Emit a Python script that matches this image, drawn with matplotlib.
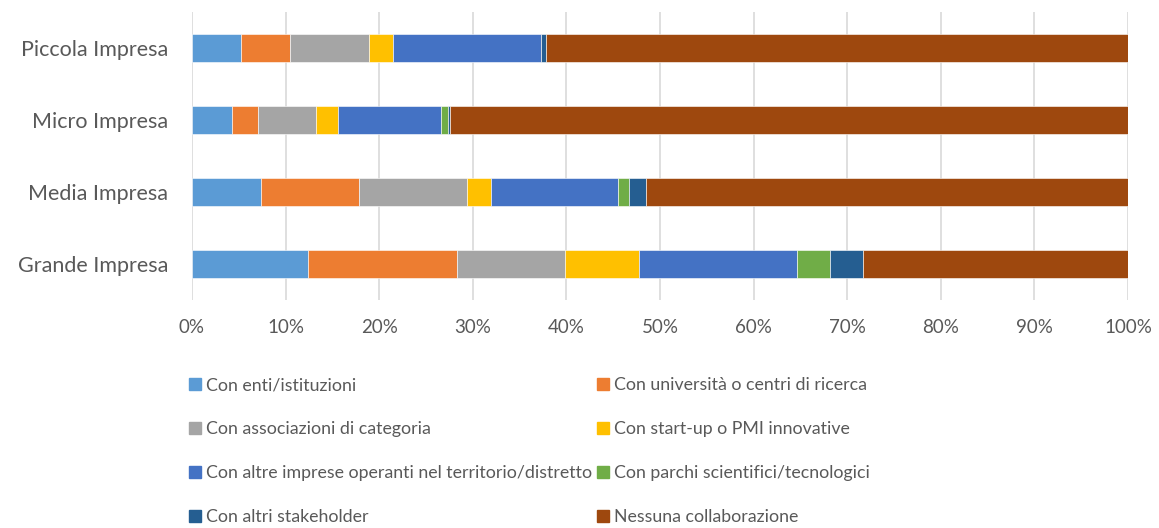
import matplotlib
matplotlib.use("Agg")
import matplotlib.pyplot as plt
from matplotlib.patches import Patch
from matplotlib.ticker import PercentFormatter

plt.rcParams['font.family'] = ['Lato', 'DejaVu Sans']

# categories, bottom to top
categories = ["Grande Impresa", "Media Impresa", "Micro Impresa", "Piccola Impresa"]

series_names = [
    "Con enti/istituzioni",
    "Con università o centri di ricerca",
    "Con associazioni di categoria",
    "Con start-up o PMI innovative",
    "Con altre imprese operanti nel territorio/distretto",
    "Con parchi scientifici/tecnologici",
    "Con altri stakeholder",
    "Nessuna collaborazione",
]

# percentages per series, same order as categories
enti = [12.4, 7.4, 4.3, 5.2]
universita = [15.9, 10.4, 2.7, 5.3]
associazioni = [11.6, 11.6, 6.2, 8.4]
startup = [7.9, 2.5, 2.4, 2.6]
altre_imprese = [16.8, 13.6, 11.0, 15.8]
parchi = [3.6, 1.2, 0.7, 0.0]
stakeholder = [3.5, 1.8, 0.3, 0.5]
nessuna = [28.3, 51.5, 72.4, 62.2]

series = [enti, universita, associazioni, startup, altre_imprese, parchi, stakeholder, nessuna]
colors = ["#5B9BD5", "#ED7D31", "#A5A5A5", "#FFC000",
          "#4472C4", "#70AD47", "#255E91", "#9E480E"]

txt = "#595959"

fig = plt.figure(figsize=(11.59, 5.28), dpi=100)
ax = fig.add_axes([192/1159, 1 - 300/528, 936/1159, 288/528])

ypos = range(len(categories))
left = [0.0] * len(categories)
for vals, col, name in zip(series, colors, series_names):
    ax.barh(ypos, vals, left=left, height=0.4, color=col, label=name,
            edgecolor="white", linewidth=0.4)
    left = [l + v for l, v in zip(left, vals)]

ax.set_xlim(0, 100)
ax.set_ylim(-0.5, len(categories) - 0.5)
ax.set_xticks(range(0, 101, 10))
ax.xaxis.set_major_formatter(PercentFormatter(decimals=0))
ax.set_yticks(list(ypos))
ax.set_yticklabels(categories)
ax.tick_params(axis='both', length=0, colors=txt)
ax.tick_params(axis='x', pad=14, labelsize=13.5)
ax.tick_params(axis='y', pad=17, labelsize=15.5)
ax.grid(axis='x', color="#D9D9D9", linewidth=1.2)
ax.set_axisbelow(True)
for s in ax.spines.values():
    s.set_visible(False)

handles = [Patch(color=c) for c in colors]
order = [0, 2, 4, 6, 1, 3, 5, 7]
fig.legend([handles[i] for i in order], [series_names[i] for i in order],
           ncol=2, loc="upper left", bbox_to_anchor=(182/1159, 1 - 370/528),
           frameon=False, fontsize=12.8, labelcolor=txt,
           handlelength=0.65, handleheight=0.65, handletextpad=0.3,
           columnspacing=0.3, labelspacing=1.58, borderaxespad=0)

fig.savefig("out.png", dpi=100)
